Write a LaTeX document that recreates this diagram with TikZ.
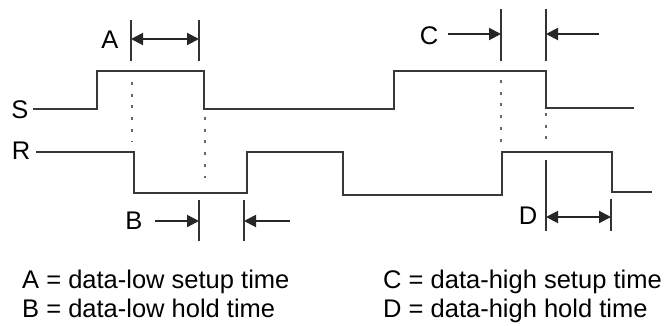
\documentclass[tikz,border=0pt]{standalone}
\usepackage{fontspec}
\setmainfont{Liberation Sans}
\usepackage{tikz}
\usetikzlibrary{arrows.meta,positioning,calc}

\begin{document}
\begin{tikzpicture}[
    x=1pt, y=-1pt,
    wave/.style={line width=2.8pt, draw=black!78, line join=miter},
    tick/.style={line width=2.6pt, draw=black!80},
    guide/.style={line width=2.6pt, draw=black!60, dash pattern=on 3pt off 8.7pt},
    arrow/.style={line width=2pt, draw=black!85, -{Triangle[length=12pt,width=12pt]}},
    dblarrow/.style={arrow, {Triangle[length=12pt,width=12pt]}-{Triangle[length=12pt,width=12pt]}},
    lbl/.style={font=\fontsize{25.5}{30}\selectfont, inner sep=0pt, anchor=base}
]
    \useasboundingbox (0,0) rectangle (667,325);

    % signal names
    \node[lbl] (s) at (20,118) {S};
    \node[lbl] (r) at (21,159) {R};

    % waveforms
    \draw[wave] (33,109) -- (97,109) -- (97,71) -- (204,71) -- (204,109)
        -- (394,109) -- (394,71) -- (546,71) -- (546,108) -- (634,108);
    \draw[wave] (36,152) -- (134,152) -- (134,193) -- (247,193) -- (247,152)
        -- (343,152) -- (343,195) -- (502,195) -- (502,152) -- (612,152)
        -- (612,192) -- (652,192);

    % dotted guides
    \draw[guide] (132,82) -- (132,142);
    \draw[guide] (205,117) -- (205,178);
    \draw[guide] (501,80) -- (501,142);
    \draw[guide] (546,113) -- (546,145);

    % tick marks
    \coordinate (a1) at (131,39);
    \coordinate (a2) at (199,39);
    \coordinate (b1) at (199,221);
    \coordinate (b2) at (244,221);
    \coordinate (c1) at (501,34);
    \coordinate (c2) at (546,34);
    \coordinate (d1) at (546,217);
    \coordinate (d2) at (611,217);
    \draw[tick] (131,20) -- (131,61);
    \draw[tick] (199,20) -- (199,61);
    \draw[tick] (199,200) -- (199,241);
    \draw[tick] (244,200) -- (244,241);
    \draw[tick] (501,9) -- (501,61);
    \draw[tick] (546,9) -- (546,61);
    \draw[tick] (546,160) -- (546,231);
    \draw[tick] (611,199) -- (611,231);

    % interval labels
    \node[lbl] (A) at (110,48) {A};
    \node[lbl] (B) at (134,229) {B};
    \node[lbl] (C) at (429,44) {C};
    \node[lbl] (D) at (528,224) {D};

    % interval arrows
    \draw[dblarrow] (a1) -- (a2);
    \coordinate (b0) at (155,221);
    \coordinate (b3) at (290,221);
    \draw[arrow] (b0) -- (b1);
    \draw[arrow] (b3) -- (b2);
    \coordinate (c0) at (448,34);
    \coordinate (c3) at (599,34);
    \draw[arrow] (c0) -- (c1);
    \draw[arrow] (c3) -- (c2);
    \draw[dblarrow] (d1) -- (d2);

    % legend
    \node[lbl, anchor=base west] (legA) at (22,288) {A = data-low setup time};
    \node[lbl, anchor=base west] (legB) at (22,317) {B = data-low hold time};
    \node[lbl, anchor=base west] (legC) at (383,288) {C = data-high setup time};
    \node[lbl, anchor=base west] (legD) at (383,317) {D = data-high hold time};
\end{tikzpicture}
\end{document}
